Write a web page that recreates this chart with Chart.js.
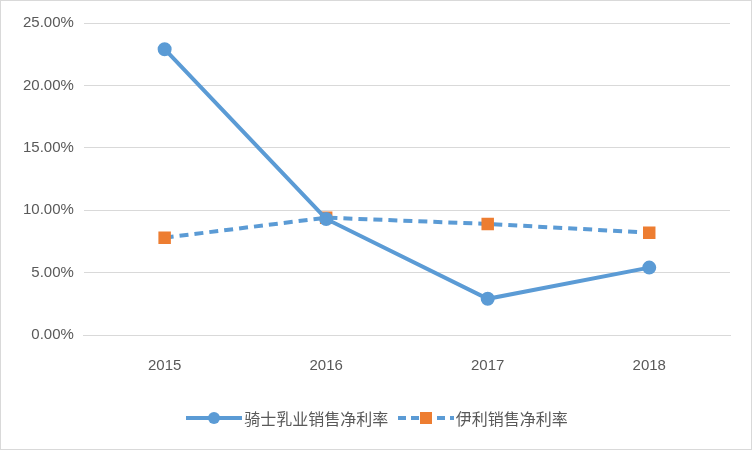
<!DOCTYPE html>
<html><head><meta charset="utf-8">
<script src="https://cdn.jsdelivr.net/npm/chart.js@4/dist/chart.umd.min.js"></script>
<style>
body{margin:0;background:#fff;}
#wrap{position:relative;width:750px;height:448px;border:1px solid #d9d9d9;}
#legend{position:absolute;left:0;right:0;top:405px;text-align:center;font-family:"Noto Sans CJK SC";font-size:16px;color:#595959;}
#legend span{display:inline-flex;align-items:center;margin:0 2px;}
</style></head><body>
<div id="wrap"><canvas id="c" width="750" height="448"></canvas>
<div id="legend">
<span><svg width="60" height="20"><line x1="2" y1="10" x2="58" y2="10" stroke="#5B9BD5" stroke-width="4"/><circle cx="30" cy="10" r="6" fill="#5B9BD5"/></svg>骑士乳业销售净利率</span>
<span><svg width="60" height="20"><line x1="2" y1="10" x2="58" y2="10" stroke="#5B9BD5" stroke-width="4" stroke-dasharray="8,5"/><rect x="24" y="4" width="12" height="12" fill="#ED7D31"/></svg>伊利销售净利率</span>
</div></div>
<script>
// 数据
const years = ['2015', '2016', '2017', '2018'];
const qishi = [22.9, 9.3, 2.9, 5.4];
const yili = [7.8, 9.4, 8.9, 8.2];

new Chart(document.getElementById('c'), {
    type: 'line',
    data: {
        labels: years,
        datasets: [{
            label: '骑士乳业销售净利率',
            data: qishi,
            borderColor: '#5B9BD5',
            backgroundColor: '#5B9BD5',
            borderWidth: 4,
            pointRadius: 5,
            pointStyle: 'circle',
            tension: 0
        }, {
            label: '伊利销售净利率',
            data: yili,
            borderColor: '#5B9BD5',
            backgroundColor: '#ED7D31',
            pointBorderColor: '#ED7D31',
            borderWidth: 4,
            borderDash: [9, 6],
            pointRadius: 6,
            pointStyle: 'rect',
            tension: 0
        }]
    },
    options: {
        responsive: false,
        animation: false,
        layout: { padding: { left: 12, right: 21, top: 22, bottom: 60 } },
        plugins: { legend: { display: false }, tooltip: { enabled: false } },
        scales: {
            y: {
                min: 0, max: 25,
                ticks: { stepSize: 5, color: '#595959', padding: 10, font: { family: 'Liberation Sans', size: 15 },
                         callback: v => v.toFixed(2) + '%' },
                grid: { color: '#d9d9d9', drawTicks: false },
                border: { display: false }
            },
            x: {
                offset: true,
                ticks: { color: '#595959', padding: 14, font: { family: 'Liberation Sans', size: 15 } },
                grid: { display: false },
                border: { color: '#d9d9d9' }
            }
        }
    }
});
</script>
</body></html>
